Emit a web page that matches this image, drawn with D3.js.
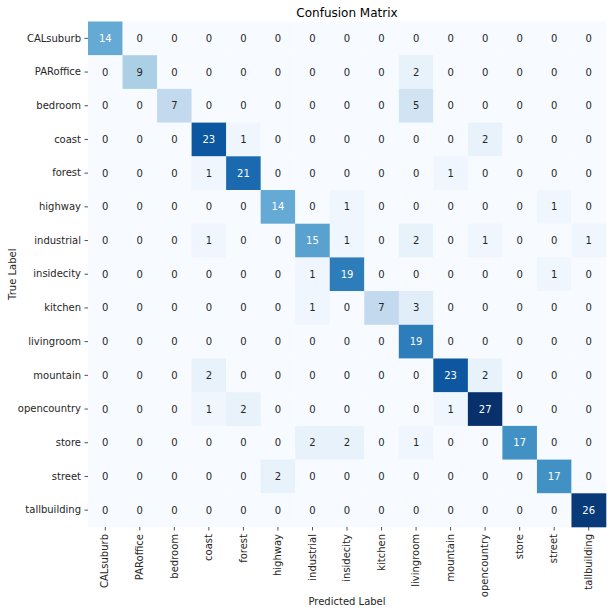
<!DOCTYPE html>
<html><head><meta charset="utf-8">
<script src="https://cdn.jsdelivr.net/npm/d3@7"></script>
<style>body{margin:0;background:#fff}svg{display:block}text{font-family:"DejaVu Sans",sans-serif}</style>
</head><body>
<svg id="c" width="614" height="616"></svg>
<script>
const labels = ["CALsuburb","PARoffice","bedroom","coast","forest","highway","industrial","insidecity","kitchen","livingroom","mountain","opencountry","store","street","tallbuilding"];
const row_CALsuburb   = [14,0,0,0,0,0,0,0,0,0,0,0,0,0,0];
const row_PARoffice   = [0,9,0,0,0,0,0,0,0,2,0,0,0,0,0];
const row_bedroom     = [0,0,7,0,0,0,0,0,0,5,0,0,0,0,0];
const row_coast       = [0,0,0,23,1,0,0,0,0,0,0,2,0,0,0];
const row_forest      = [0,0,0,1,21,0,0,0,0,0,1,0,0,0,0];
const row_highway     = [0,0,0,0,0,14,0,1,0,0,0,0,0,1,0];
const row_industrial  = [0,0,0,1,0,0,15,1,0,2,0,1,0,0,1];
const row_insidecity  = [0,0,0,0,0,0,1,19,0,0,0,0,0,1,0];
const row_kitchen     = [0,0,0,0,0,0,1,0,7,3,0,0,0,0,0];
const row_livingroom  = [0,0,0,0,0,0,0,0,0,19,0,0,0,0,0];
const row_mountain    = [0,0,0,2,0,0,0,0,0,0,23,2,0,0,0];
const row_opencountry = [0,0,0,1,2,0,0,0,0,0,1,27,0,0,0];
const row_store       = [0,0,0,0,0,0,2,2,0,1,0,0,17,0,0];
const row_street      = [0,0,0,0,0,2,0,0,0,0,0,0,0,17,0];
const row_tallbuilding= [0,0,0,0,0,0,0,0,0,0,0,0,0,0,26];
const matrix = [row_CALsuburb,row_PARoffice,row_bedroom,row_coast,row_forest,row_highway,row_industrial,row_insidecity,row_kitchen,row_livingroom,row_mountain,row_opencountry,row_store,row_street,row_tallbuilding];

const blues = ["#f7fbff","#deebf7","#c6dbef","#9ecae1","#6baed6","#4292c6","#2171b5","#08519c","#08306b"];
const vmax = d3.max(matrix.flat());
const color = d3.scaleLinear().domain(blues.map((_,i)=>i/(blues.length-1)*vmax)).range(blues).interpolate(d3.interpolateRgb);

function lum(c){
  const r = d3.rgb(c);
  const f = v => { v/=255; return v<=0.03928 ? v/12.92 : Math.pow((v+0.055)/1.055,2.4); };
  return 0.2126*f(r.r)+0.7152*f(r.g)+0.0722*f(r.b);
}

const svg = d3.select("#c");
const L=88, R=606, T=21.5, B=527;
const x = d3.scaleBand().domain(labels).range([L,R]);
const y = d3.scaleBand().domain(labels).range([T,B]);

const cells = [];
matrix.forEach((row,i)=>row.forEach((v,j)=>cells.push({r:labels[i],c:labels[j],v})));

svg.append("g").selectAll("rect").data(cells).join("rect")
  .attr("x",d=>x(d.c)).attr("y",d=>y(d.r))
  .attr("width",x.bandwidth()+0.3).attr("height",y.bandwidth()+0.3)
  .attr("fill",d=>color(d.v));

svg.append("g").selectAll("text").data(cells).join("text")
  .attr("x",d=>x(d.c)+x.bandwidth()/2).attr("y",d=>y(d.r)+y.bandwidth()/2)
  .attr("text-anchor","middle").attr("dominant-baseline","central")
  .attr("font-size","10px")
  .attr("fill",d=>lum(color(d.v))>0.408 ? "#262626" : "#ffffff")
  .text(d=>d.v);

const ya = svg.append("g").attr("transform",`translate(${L},0)`)
  .call(d3.axisLeft(y).tickSize(3.5).tickPadding(3.5));
ya.select(".domain").remove();
ya.selectAll("line").attr("stroke","#262626").attr("stroke-width",0.8);
ya.selectAll("text").attr("font-size","10px").attr("fill","#262626");

const xa = svg.append("g").attr("transform",`translate(0,${B})`)
  .call(d3.axisBottom(x).tickSize(3.5).tickPadding(3.5));
xa.select(".domain").remove();
xa.selectAll("line").attr("stroke","#262626").attr("stroke-width",0.8);
xa.selectAll("text").attr("font-size","10px").attr("fill","#262626")
  .attr("transform","rotate(-90)").attr("text-anchor","end")
  .attr("x",-7).attr("y",0).attr("dy","0.32em");

svg.append("text").attr("x",(L+R)/2).attr("y",17).attr("text-anchor","middle")
  .attr("font-size","12px").attr("fill","#000").text("Confusion Matrix");
svg.append("text").attr("x",(L+R)/2).attr("y",605).attr("text-anchor","middle")
  .attr("font-size","10px").attr("fill","#262626").text("Predicted Label");
svg.append("text").attr("transform",`translate(16,${(T+B)/2}) rotate(-90)`).attr("text-anchor","middle")
  .attr("font-size","10px").attr("fill","#262626").text("True Label");
</script>
</body></html>
